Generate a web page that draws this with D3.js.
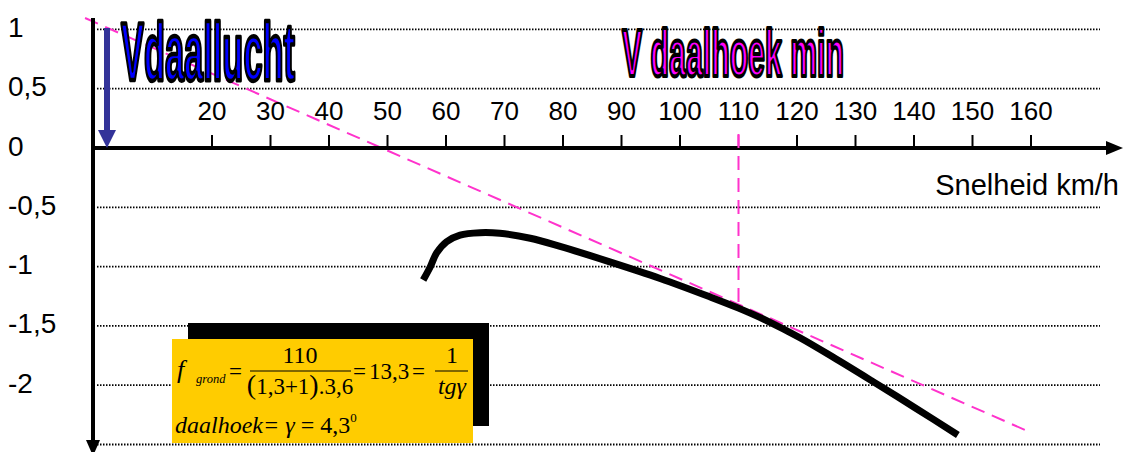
<!DOCTYPE html>
<html>
<head>
<meta charset="utf-8"/>
<script src="https://cdn.jsdelivr.net/npm/d3@7"></script>
<style>
  body{margin:0;background:#fff;}
  svg{display:block;}
  text{font-family:"Liberation Sans",Arial,sans-serif;}
  .serif{font-family:"Liberation Serif","Times New Roman",serif;}
</style>
</head>
<body>
<script>
// data
var xTicks = [20,30,40,50,60,70,80,90,100,110,120,130,140,150,160];
var yTicks = [1,0.5,0,-0.5,-1,-1.5,-2];
var yTickLabels = ["1","0,5","0","-0,5","-1","-1,5","-2"];
var gridValues = [1,0.5,-0.5,-1,-1.5,-2,-2.5];
// sink rate curve (km/h , m/s)
var speed = [56.1,57.3,58.4,60.1,62.4,65.8,69.2,74.4,79.5,88,96.6,105.1,110,114.8,120.5,126.2,133,140.5,147.5];
var sink  = [-1.113,-1.003,-0.885,-0.79,-0.734,-0.714,-0.719,-0.761,-0.83,-0.96,-1.1,-1.255,-1.35,-1.455,-1.6,-1.765,-1.97,-2.2,-2.42];
// tangent through the best glide point
var tangentV = [-1.7,159];
var tangentY = [1.096,-2.378];
var vBest = 110, yBest = -1.31;

var W = 1123, H = 452;
var svg = d3.select('body').append('svg').attr('width',W).attr('height',H);

var x = d3.scaleLinear().domain([0,160]).range([95,1031]);
var y = d3.scaleLinear().domain([1,-2.5]).range([29.4,444.5]);

var pink = "#ff33cc";

// dotted gridlines
svg.selectAll('line.grid').data(gridValues).enter().append('line')
  .attr('class','grid')
  .attr('x1',97).attr('x2',1100)
  .attr('y1',function(d){return y(d);}).attr('y2',function(d){return y(d);})
  .attr('stroke','#000').attr('stroke-width',1.8).attr('stroke-dasharray','1.5,1.5');

// y labels
svg.selectAll('text.ylab').data(yTicks).enter().append('text')
  .attr('class','ylab')
  .attr('x',8).attr('y',function(d){return y(d)-2;})
  .attr('dominant-baseline','central')
  .attr('font-size',28)
  .text(function(d,i){return yTickLabels[i];});

// tangent line
svg.append('line')
  .attr('x1',x(tangentV[0])).attr('y1',y(tangentY[0]))
  .attr('x2',x(tangentV[1])).attr('y2',y(tangentY[1]))
  .attr('stroke',pink).attr('stroke-width',2).attr('stroke-dasharray','14,8');
svg.append('line')
  .attr('x1',x(vBest)).attr('x2',x(vBest))
  .attr('y1',y(0)-14).attr('y2',y(yBest))
  .attr('stroke',pink).attr('stroke-width',2).attr('stroke-dasharray','14,8');

// axes
svg.append('line').attr('x1',93).attr('x2',93).attr('y1',18).attr('y2',442)
  .attr('stroke','#000').attr('stroke-width',4);
svg.append('path').attr('d','M86,440 L100,440 L93,456 Z').attr('fill','#000');
svg.append('line').attr('x1',93).attr('x2',1108).attr('y1',y(0)).attr('y2',y(0))
  .attr('stroke','#000').attr('stroke-width',4);
svg.append('path').attr('d','M1106,'+(y(0)-7)+' L1123,'+y(0)+' L1106,'+(y(0)+7)+' Z').attr('fill','#000');

// x ticks and labels (above the axis)
svg.selectAll('line.xt').data(xTicks).enter().append('line')
  .attr('class','xt')
  .attr('x1',function(d){return x(d);}).attr('x2',function(d){return x(d);})
  .attr('y1',y(0)-13).attr('y2',y(0))
  .attr('stroke',function(d){return d==vBest?pink:'#000';}).attr('stroke-width',2);
svg.selectAll('text.xlab').data(xTicks).enter().append('text')
  .attr('class','xlab')
  .attr('x',function(d){return x(d);}).attr('y',120)
  .attr('text-anchor','middle').attr('font-size',26)
  .text(function(d){return d;});

svg.append('text').attr('x',1119).attr('y',195).attr('text-anchor','end')
  .attr('font-size',29).text('Snelheid km/h');

// blue arrow Vdaallucht
svg.append('line').attr('x1',107).attr('x2',107).attr('y1',28).attr('y2',132)
  .attr('stroke','#333399').attr('stroke-width',6);
svg.append('path').attr('d','M98,130 L116,130 L107,148 Z').attr('fill','#333399');

// sink curve
var pts = speed.map(function(v,i){return [v,sink[i]];});
var line = d3.line().x(function(d){return x(d[0]);}).y(function(d){return y(d[1]);})
  .curve(d3.curveCatmullRom);
svg.append('path').datum(pts).attr('d',line)
  .attr('fill','none').attr('stroke','#000').attr('stroke-width',7);

// titles
function title(txt,x0,base,len,size,sy,fill){
  svg.append('text')
    .attr('transform','translate('+x0+','+base+') scale(1,'+sy+')')
    .attr('font-family','"Liberation Sans Narrow","DejaVu Sans Condensed",sans-serif')
    .attr('font-weight','bold').attr('font-size',size)
    .attr('textLength',len).attr('lengthAdjust','spacingAndGlyphs')
    .attr('fill',fill).attr('stroke','#000').attr('stroke-width',3)
    .attr('stroke-linejoin','round')
    .text(txt);
}
title('Vdaallucht',121,80,174,54,1.5,'#0000ff');
title('V daalhoek min',622,76,222,48,1.4,'#ff00ff');

// formula box
svg.append('rect').attr('x',188).attr('y',323).attr('width',301).attr('height',103).attr('fill','#000');
svg.append('rect').attr('x',172).attr('y',339).attr('width',301).attr('height',104).attr('fill','#ffcc00');

var f = svg.append('g');
function t(txt,x0,y0,size,italic,anchor){
  return f.append('text').attr('class','serif').attr('x',x0).attr('y',y0)
    .attr('font-size',size).attr('font-style',italic?'italic':'normal')
    .attr('text-anchor',anchor||'start').text(txt);
}
t('f',177,378,26,true);
t('grond',196,383,12.5,true);
t('=',229,379,23,false);
t('110',300,363,24,false,'middle');
f.append('line').attr('x1',250).attr('x2',351).attr('y1',371).attr('y2',371).attr('stroke','#000').attr('stroke-width',1.2);
var den = t('',300,394,23,false,'middle');
den.append('tspan').attr('font-size',28).text('(');
den.append('tspan').text('1,3+1');
den.append('tspan').attr('font-size',28).text(')');
den.append('tspan').text('.3,6');
t('=',353,379,23,false);
t('13,3',369,379,23,false);
t('=',412,379,23,false);
t('1',452,363,24,false,'middle');
f.append('line').attr('x1',435).attr('x2',468).attr('y1',371).attr('y2',371).attr('stroke','#000').attr('stroke-width',1.2);
t('tgγ',452,394,24,true,'middle');
var l2 = t('',175,433,24,true);
l2.append('tspan').text('daalhoek= ');
l2.append('tspan').text('γ');
l2.append('tspan').attr('font-style','normal').text(' = 4,3');
l2.append('tspan').attr('font-style','normal').attr('font-size',13).attr('dy',-11).text('0');
</script>
</body>
</html>
